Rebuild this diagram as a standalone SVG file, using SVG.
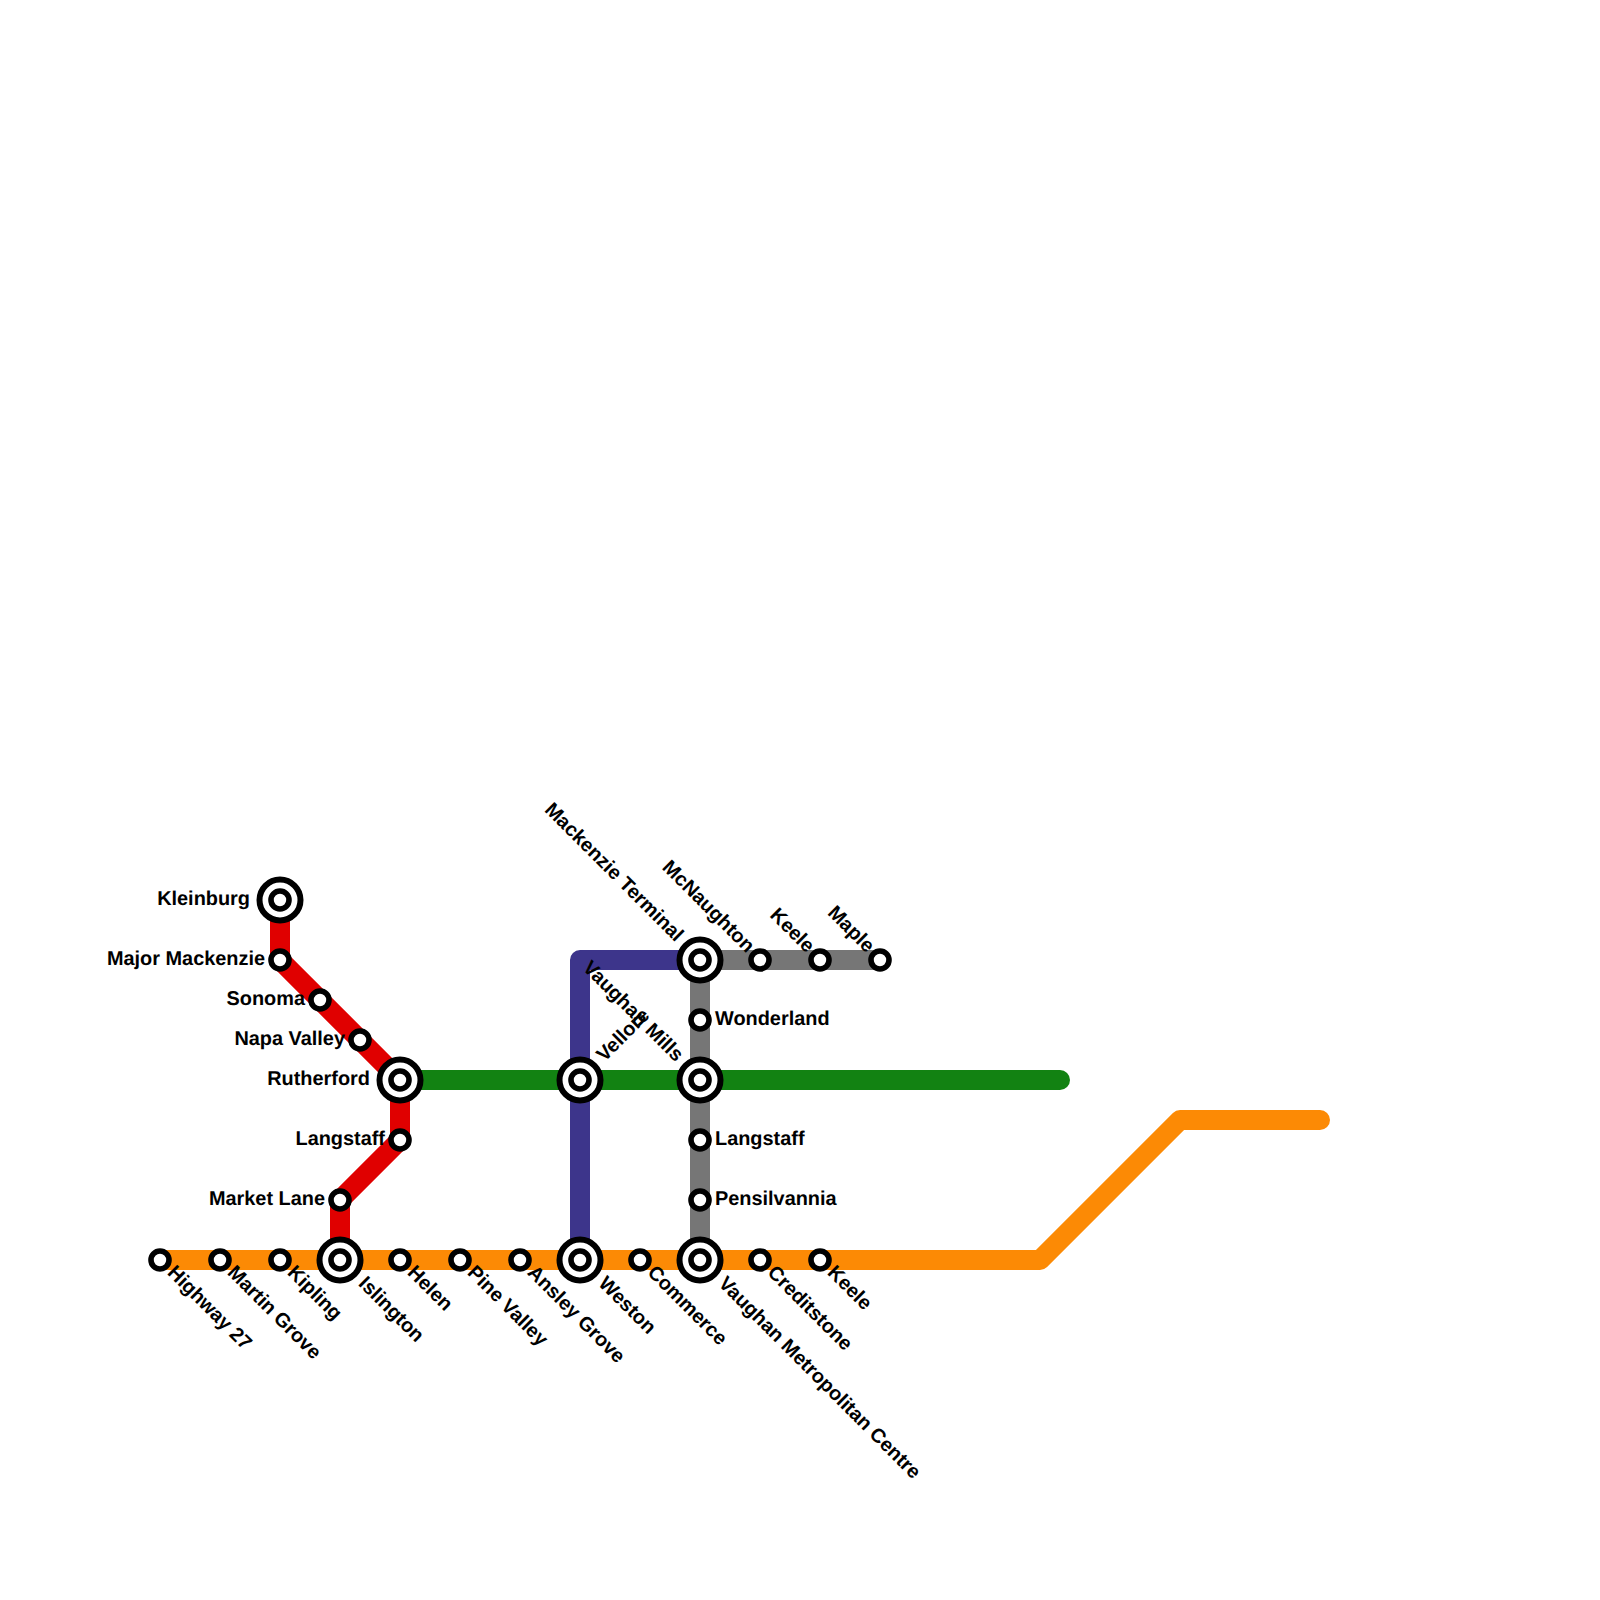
<svg xmlns="http://www.w3.org/2000/svg" width="1600" height="1600" viewBox="0 0 1600 1600">
<style>
.l{fill:none;stroke-width:20;stroke-linecap:round;stroke-linejoin:round}
.s{fill:#fff;stroke:#000;stroke-width:5.6}
.o{fill:#fff;stroke:#000;stroke-width:6}
text{font-family:"Liberation Sans",Arial,sans-serif;font-weight:700;font-size:19.9px;fill:#000;text-rendering:geometricPrecision}
.e{text-anchor:end}
</style>
<rect width="1600" height="1600" fill="#fff"/>
<g id="connectors">
<path class="l" stroke="#767676" d="M700 960V1260M700 960H880"/>
<path class="l" stroke="#3d358b" d="M700 960H580V1260"/>
<path class="l" stroke="#e00000" d="M280 900V960L400 1080V1140L340 1200V1260"/>
<path class="l" stroke="#128212" d="M400 1080H1060"/>
<path class="l" stroke="#fc8a05" d="M160 1260H1040L1180 1120H1320"/>
</g>
<g id="kleinburg"><circle class="o" cx="280" cy="900" r="20.5"/><circle class="s" cx="280" cy="900" r="9"/><text class="e" x="250" y="904.5">Kleinburg</text></g>
<g id="major-mackenzie"><circle class="s" cx="280" cy="960" r="9"/><text class="e" x="265" y="964.5">Major Mackenzie</text></g>
<g id="sonoma"><circle class="s" cx="320" cy="1000" r="9"/><text class="e" x="305" y="1004.5">Sonoma</text></g>
<g id="napa-valley"><circle class="s" cx="360" cy="1040" r="9"/><text class="e" x="345" y="1044.5">Napa Valley</text></g>
<g id="rutherford"><circle class="o" cx="400" cy="1080" r="20.5"/><circle class="s" cx="400" cy="1080" r="9"/><text class="e" x="370" y="1084.5">Rutherford</text></g>
<g id="langstaff-west"><circle class="s" cx="400" cy="1140" r="9"/><text class="e" x="385" y="1144.5">Langstaff</text></g>
<g id="market-lane"><circle class="s" cx="340" cy="1200" r="9"/><text class="e" x="325" y="1204.5">Market Lane</text></g>
<g id="highway-27"><circle class="s" cx="160" cy="1260" r="9"/><text transform="translate(166.5 1273.5) rotate(45)">Highway 27</text></g>
<g id="martin-grove"><circle class="s" cx="220" cy="1260" r="9"/><text transform="translate(226.5 1273.5) rotate(45)">Martin Grove</text></g>
<g id="kipling"><circle class="s" cx="280" cy="1260" r="9"/><text transform="translate(286.5 1273.5) rotate(45)">Kipling</text></g>
<g id="islington"><circle class="o" cx="340" cy="1260" r="20.5"/><circle class="s" cx="340" cy="1260" r="9"/><text transform="translate(357.5 1284.5) rotate(45)">Islington</text></g>
<g id="helen"><circle class="s" cx="400" cy="1260" r="9"/><text transform="translate(406.5 1273.5) rotate(45)">Helen</text></g>
<g id="pine-valley"><circle class="s" cx="460" cy="1260" r="9"/><text transform="translate(466.5 1273.5) rotate(45)">Pine Valley</text></g>
<g id="ansley-grove"><circle class="s" cx="520" cy="1260" r="9"/><text transform="translate(526.5 1273.5) rotate(45)">Ansley Grove</text></g>
<g id="weston"><circle class="o" cx="580" cy="1260" r="20.5"/><circle class="s" cx="580" cy="1260" r="9"/><text transform="translate(597.5 1284.5) rotate(45)">Weston</text></g>
<g id="commerce"><circle class="s" cx="640" cy="1260" r="9"/><text transform="translate(646.5 1273.5) rotate(45)">Commerce</text></g>
<g id="vaughan-metropolitan-centre"><circle class="o" cx="700" cy="1260" r="20.5"/><circle class="s" cx="700" cy="1260" r="9"/><text transform="translate(717.5 1284.5) rotate(45)">Vaughan Metropolitan Centre</text></g>
<g id="creditstone"><circle class="s" cx="760" cy="1260" r="9"/><text transform="translate(766.5 1273.5) rotate(45)">Creditstone</text></g>
<g id="keele-south"><circle class="s" cx="820" cy="1260" r="9"/><text transform="translate(826.5 1273.5) rotate(45)">Keele</text></g>
<g id="vellore"><circle class="o" cx="580" cy="1080" r="20.5"/><circle class="s" cx="580" cy="1080" r="9"/><text transform="translate(604.5 1062.5) rotate(-45)">Vellore</text></g>
<g id="vaughan-mills"><circle class="o" cx="700" cy="1080" r="20.5"/><circle class="s" cx="700" cy="1080" r="9"/><text class="e" transform="translate(675.5 1062.5) rotate(45)">Vaughan Mills</text></g>
<g id="mackenzie-terminal"><circle class="o" cx="700" cy="960" r="20.5"/><circle class="s" cx="700" cy="960" r="9"/><text class="e" transform="translate(675.5 942.5) rotate(45)">Mackenzie Terminal</text></g>
<g id="mcnaughton"><circle class="s" cx="760" cy="960" r="9"/><text class="e" transform="translate(746.5 953.5) rotate(45)">McNaughton</text></g>
<g id="keele-north"><circle class="s" cx="820" cy="960" r="9"/><text class="e" transform="translate(806.5 953.5) rotate(45)">Keele</text></g>
<g id="maple"><circle class="s" cx="880" cy="960" r="9"/><text class="e" transform="translate(866.5 953.5) rotate(45)">Maple</text></g>
<g id="wonderland"><circle class="s" cx="700" cy="1020" r="9"/><text x="715" y="1024.5">Wonderland</text></g>
<g id="langstaff-east"><circle class="s" cx="700" cy="1140" r="9"/><text x="715" y="1144.5">Langstaff</text></g>
<g id="pensilvannia"><circle class="s" cx="700" cy="1200" r="9"/><text x="715" y="1204.5">Pensilvannia</text></g>
</svg>
